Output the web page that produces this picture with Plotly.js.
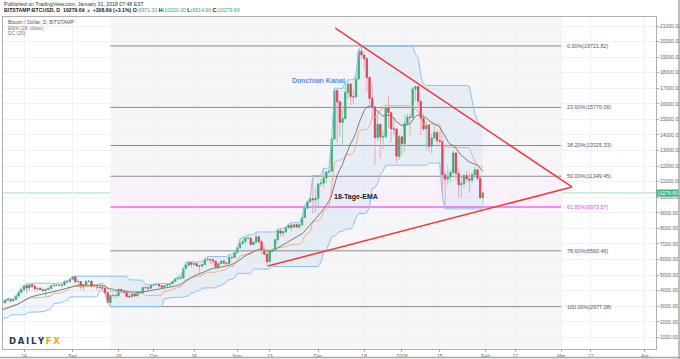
<!DOCTYPE html>
<html><head><meta charset="utf-8">
<script src="https://cdn.plot.ly/plotly-3.0.1.min.js"></script>
<style>html,body{margin:0;padding:0;background:#fff}#chart{width:680px;height:359px}</style>
</head><body><div id="chart"></div>
<script>
const dates = [
"2017-07-01","2017-07-02","2017-07-03","2017-07-04","2017-07-05","2017-07-06","2017-07-07","2017-07-08","2017-07-09","2017-07-10","2017-07-11","2017-07-12","2017-07-13","2017-07-14","2017-07-15","2017-07-16","2017-07-17","2017-07-18","2017-07-19","2017-07-20","2017-07-21","2017-07-22","2017-07-23","2017-07-24","2017-07-25","2017-07-26","2017-07-27","2017-07-28","2017-07-29","2017-07-30","2017-07-31",
"2017-08-01","2017-08-02","2017-08-03","2017-08-04","2017-08-05","2017-08-06","2017-08-07","2017-08-08","2017-08-09","2017-08-10","2017-08-11","2017-08-12","2017-08-13","2017-08-14","2017-08-15","2017-08-16","2017-08-17","2017-08-18","2017-08-19","2017-08-20","2017-08-21","2017-08-22","2017-08-23","2017-08-24","2017-08-25","2017-08-26","2017-08-27","2017-08-28","2017-08-29","2017-08-30","2017-08-31",
"2017-09-01","2017-09-02","2017-09-03","2017-09-04","2017-09-05","2017-09-06","2017-09-07","2017-09-08","2017-09-09","2017-09-10","2017-09-11","2017-09-12","2017-09-13","2017-09-14","2017-09-15","2017-09-16","2017-09-17","2017-09-18","2017-09-19","2017-09-20","2017-09-21","2017-09-22","2017-09-23","2017-09-24","2017-09-25","2017-09-26","2017-09-27","2017-09-28","2017-09-29","2017-09-30",
"2017-10-01","2017-10-02","2017-10-03","2017-10-04","2017-10-05","2017-10-06","2017-10-07","2017-10-08","2017-10-09","2017-10-10","2017-10-11","2017-10-12","2017-10-13","2017-10-14","2017-10-15","2017-10-16","2017-10-17","2017-10-18","2017-10-19","2017-10-20","2017-10-21","2017-10-22","2017-10-23","2017-10-24","2017-10-25","2017-10-26","2017-10-27","2017-10-28","2017-10-29","2017-10-30","2017-10-31",
"2017-11-01","2017-11-02","2017-11-03","2017-11-04","2017-11-05","2017-11-06","2017-11-07","2017-11-08","2017-11-09","2017-11-10","2017-11-11","2017-11-12","2017-11-13","2017-11-14","2017-11-15","2017-11-16","2017-11-17","2017-11-18","2017-11-19","2017-11-20","2017-11-21","2017-11-22","2017-11-23","2017-11-24","2017-11-25","2017-11-26","2017-11-27","2017-11-28","2017-11-29","2017-11-30",
"2017-12-01","2017-12-02","2017-12-03","2017-12-04","2017-12-05","2017-12-06","2017-12-07","2017-12-08","2017-12-09","2017-12-10","2017-12-11","2017-12-12","2017-12-13","2017-12-14","2017-12-15","2017-12-16","2017-12-17","2017-12-18","2017-12-19","2017-12-20","2017-12-21","2017-12-22","2017-12-23","2017-12-24","2017-12-25","2017-12-26","2017-12-27","2017-12-28","2017-12-29","2017-12-30","2017-12-31",
"2018-01-01","2018-01-02","2018-01-03","2018-01-04","2018-01-05","2018-01-06","2018-01-07","2018-01-08","2018-01-09","2018-01-10","2018-01-11","2018-01-12","2018-01-13","2018-01-14","2018-01-15","2018-01-16","2018-01-17","2018-01-18","2018-01-19","2018-01-20","2018-01-21","2018-01-22","2018-01-23","2018-01-24","2018-01-25","2018-01-26","2018-01-27","2018-01-28","2018-01-29","2018-01-30","2018-01-31"
];
const open = [
2480,2430,2500,2560,2600,2610,2600,2510,2560,2510,2330,2310,2400,2360,2230,1990,1930,2230,2320,2270,2860,2670,2830,2750,2760,2560,2540,2680,2800,2720,2740,
2870,2720,2700,2790,2860,3250,3220,3390,3420,3350,3420,3650,3880,4060,4320,4170,4380,4290,4120,4160,4070,4000,4080,4140,4320,4350,4350,4340,4370,4580,4570,
4740,4910,4580,4590,4230,4380,4600,4610,4300,4320,4230,4200,4160,3870,3240,3700,3700,3680,4080,3910,3880,3620,3600,3780,3660,3920,3880,4200,4190,4160,
4340,4400,4400,4310,4220,4320,4370,4440,4600,4770,4780,4820,5430,5640,5820,5690,5740,5600,5580,5690,5980,6010,5980,5900,5510,5740,5890,5770,5740,6150,6130,
6450,6750,7030,7160,7380,7380,6960,7120,7460,7140,6580,6340,5860,6550,6600,7280,7850,7700,7790,8040,8200,8070,8240,8100,8230,8700,9300,9720,9900,9840,
9940,10860,10910,11240,11620,11670,13750,16850,16130,14810,15050,16730,17270,16470,16450,17600,19380,19140,18900,17700,16350,15800,13830,14690,13870,13880,15740,15430,14400,14380,12640,
13880,13440,14750,15150,15130,16950,17110,16170,15060,14390,14620,13280,13800,14170,13640,13600,11440,11170,11300,11590,12850,11530,10800,10880,11390,11180,11100,11440,11760,11220,9971
];
const high = [
2520,2520,2600,2640,2630,2620,2600,2570,2570,2530,2410,2420,2420,2370,2240,2060,2230,2390,2400,2900,2870,2850,2840,2780,2770,2620,2690,2810,2810,2760,2890,
2920,2760,2810,2880,3290,3280,3430,3490,3430,3450,3690,3970,4180,4330,4440,4400,4480,4360,4200,4190,4100,4140,4250,4340,4460,4370,4390,4380,4620,4640,4750,
4920,4930,4700,4590,4480,4660,4680,4660,4370,4330,4330,4370,4170,3920,3760,3840,3760,4100,4090,4030,3900,3760,3800,3790,3960,3980,4210,4240,4200,4360,
4400,4460,4420,4350,4360,4420,4460,4620,4790,4910,4880,5440,5850,5840,5840,5780,5760,5600,5730,6070,6190,6060,6050,5900,5780,5980,6010,5850,6320,6200,6460,
6770,7330,7440,7480,7590,7410,7200,7770,7460,7280,6860,6460,6700,6730,7310,7940,8000,7850,8100,8280,8370,8280,8290,8320,8740,9480,9740,9980,11400,10650,
10900,11200,11850,11600,11900,13850,17000,16900,16250,15700,17400,17550,17300,16900,17900,19500,19700,19200,18990,17800,17250,15900,15450,14700,14300,16000,16500,15500,15100,14450,14000,
13900,15300,15400,15400,17100,17180,17120,16200,15400,14900,14700,14100,14600,14300,14200,13600,11700,12000,11800,13000,12850,11900,11300,11500,11700,11600,11600,12000,11800,11300,10320
];
const low = [
2400,2380,2490,2550,2550,2580,2490,2480,2500,2310,2250,2260,2330,2200,1980,1840,1920,2160,2260,2260,2620,2650,2700,2720,2470,2450,2530,2680,2700,2620,2720,
2660,2650,2700,2770,2850,3160,3200,3370,3240,3330,3410,3630,3850,3990,3850,3980,4190,3960,3960,4050,3970,3600,4070,4110,4300,4290,4310,4200,4340,4480,4560,
4700,4480,4460,4100,3990,4380,4500,4120,4230,4010,4120,4060,3780,3200,2977,3560,3490,3680,3860,3860,3580,3550,3590,3640,3660,3870,3880,4100,4000,4150,
4280,4380,4250,4190,4180,4310,4330,4430,4560,4710,4740,4810,5380,5570,5450,5620,5520,5110,5560,5630,5900,5720,5670,5450,5390,5720,5720,5680,5680,6030,6100,
6380,6750,6980,6980,7300,6940,6940,7060,7020,6340,6280,5555,5850,6420,6600,7100,7500,7490,7680,7960,7800,8050,8030,7950,8200,8700,9300,9650,8950,9000,
9400,10700,10600,10900,11470,11670,13700,13500,13900,13300,15000,16300,15900,16000,16400,17600,18900,18250,16800,15700,15000,12060,13600,12500,13100,13800,14500,13500,14000,12200,12400,
12750,12900,14600,14000,14900,16150,15750,14000,14250,13100,12900,12800,13800,13200,13400,10000,9250,10700,11000,11500,11100,10000,9950,10600,10950,10300,10900,11400,11100,9900,9514.96
];
const close = [
2430,2500,2560,2600,2610,2600,2510,2560,2510,2330,2310,2400,2360,2230,1990,1930,2230,2320,2270,2860,2670,2830,2750,2760,2560,2540,2680,2800,2720,2740,2870,
2720,2700,2790,2860,3250,3220,3390,3420,3350,3420,3650,3880,4060,4320,4170,4380,4290,4120,4160,4070,4000,4080,4140,4320,4350,4350,4340,4370,4580,4570,4740,
4910,4580,4590,4230,4380,4600,4610,4300,4320,4230,4200,4160,3870,3240,3700,3700,3680,4080,3910,3880,3620,3600,3780,3660,3920,3880,4200,4190,4160,4340,
4400,4400,4310,4220,4320,4370,4440,4600,4770,4780,4820,5430,5640,5820,5690,5740,5600,5580,5690,5980,6010,5980,5900,5510,5740,5890,5770,5740,6150,6130,6450,
6750,7030,7160,7380,7380,6960,7120,7460,7140,6580,6340,5860,6550,6600,7280,7850,7700,7790,8040,8200,8070,8240,8100,8230,8700,9300,9720,9900,9840,9940,
10860,10910,11240,11620,11670,13750,16850,16130,14810,15050,16730,17270,16470,16450,17600,19380,19140,18900,17700,16350,15800,13830,14690,13870,13880,15740,15430,14400,14380,12640,13880,
13440,14750,15150,15130,16950,17110,16170,15060,14390,14620,13280,13800,14170,13640,13600,11440,11170,11300,11590,12850,11530,10800,10880,11390,11180,11100,11440,11760,11220,9971,10279.69
];

const emaLength = 18;
const dcLength = 20;

const fibLevels = [19721.82, 15770.06, 13325.33, 11349.45, 9373.57, 6560.46, 2977.08];
const fibLabels = ["0.00%(19721.82)","23.60%(15770.06)","38.20%(13325.33)","50.00%(11349.45)","61.80%(9373.57)","78.60%(6560.46)","100.00%(2977.08)"];
const fibStart = "2017-09-15";
const fibEnd = "2018-03-01";
const fibLabelX = "2018-03-02 12:00";

const trendUpX = ["2017-12-07 08:00", "2018-03-05"];
const trendUpY = [20870, 10660];
const trendLowX = ["2017-11-12 08:00", "2018-03-05"];
const trendLowY = [5586, 10660];

const lastPrice = 10279.69;

const tickDates = ["2017-08-14","2017-09-01","2017-09-18","2017-10-01","2017-10-16","2017-11-01","2017-11-13","2017-12-01","2017-12-18","2018-01-01","2018-01-15","2018-02-01","2018-02-12","2018-03-01","2018-03-12","2018-04-01"];
const tickLabels = ["14","Sep","18","Oct","16","Nov","13","Dec","18","2018","15","Feb","12","Mar","12","Apr"];

// indicators derived from the price arrays (as the charting platform does)
const ema = [];
{ const k = 2/(emaLength+1); let e = close[0];
  close.forEach((c,i)=>{ e = i===0 ? c : c*k + e*(1-k); ema.push(e); }); }
const dcUp = [], dcLo = [], dcMid = [];
for (let i=0;i<close.length;i++){
  const s = Math.max(0, i-dcLength+1);
  const u = Math.max(...high.slice(s,i+1));
  const l = Math.min(...low.slice(s,i+1));
  dcUp.push(u); dcLo.push(l); dcMid.push((u+l)/2);
}
const bodyHi = open.map((o,i)=>Math.max(o,close[i]));
const bodyLo = open.map((o,i)=>Math.min(o,close[i]));

const UP = '#3fae6a', DOWN = '#ef3a4a';
const traces = [
  {type:'candlestick', x:dates, open:open, high:high, low:low, close:close,
   increasing:{line:{color:'#9fd8b6', width:1}, fillcolor:'#9fd8b6'},
   decreasing:{line:{color:'#f7a9b2', width:1}, fillcolor:'#f7a9b2'},
   whiskerwidth:0, hoverinfo:'skip'},
  {type:'candlestick', x:dates, open:open, high:bodyHi, low:bodyLo, close:close,
   increasing:{line:{color:UP, width:0.8}, fillcolor:UP},
   decreasing:{line:{color:DOWN, width:0.8}, fillcolor:DOWN},
   whiskerwidth:0, hoverinfo:'skip'},
  {type:'scatter', mode:'lines', x:dates, y:dcUp, line:{color:'#8cc3ef', width:1}, hoverinfo:'skip'},
  {type:'scatter', mode:'lines', x:dates, y:dcLo, line:{color:'#8cc3ef', width:1}, fill:'tonexty', fillcolor:'rgba(90,160,225,0.09)', hoverinfo:'skip'},
  {type:'scatter', mode:'lines', x:dates, y:dcMid, line:{color:'#f1b084', width:1}, hoverinfo:'skip'},
  {type:'scatter', mode:'lines', x:dates, y:ema, line:{color:'#7a7a7a', width:1}, hoverinfo:'skip'},
  {type:'scatter', mode:'lines', x:trendUpX, y:trendUpY, line:{color:'#f03a3a', width:1.5}, hoverinfo:'skip'},
  {type:'scatter', mode:'lines', x:trendLowX, y:trendLowY, line:{color:'#f03a3a', width:1.5}, hoverinfo:'skip'}
];

const px = v => (v-3)/653;
const py = v => (349-v)/332;

const shapes = [
  {type:'rect', xref:'x', yref:'paper', x0:fibStart, x1:fibEnd, y0:0, y1:1, fillcolor:'#f6f6f8', line:{width:0}, layer:'below'},
  {type:'rect', xref:'x', yref:'y', x0:fibStart, x1:fibEnd, y0:fibLevels[4], y1:fibLevels[3], fillcolor:'#fbf1fb', line:{width:0}, layer:'below'},
  {type:'line', xref:'paper', yref:'y', x0:0, x1:1, y0:lastPrice, y1:lastPrice, line:{color:'#a8dcc0', width:1}, layer:'between'},
  {type:'line', xref:'paper', yref:'paper', x0:px(679), x1:px(679), y0:py(359), y1:py(0), line:{color:'#a8a8a8', width:1.5}},
  {type:'line', xref:'paper', yref:'paper', x0:px(0), x1:px(680), y0:py(357.5), y1:py(357.5), line:{color:'#a8a8a8', width:1.5}}
];
fibLevels.forEach((v,i)=>{
  const pink = i===4;
  shapes.push({type:'line', xref:'x', yref:'y', x0:fibStart, x1:fibEnd, y0:v, y1:v,
    line:{color: pink ? '#f08cf0' : '#8c8c8c', width: pink ? 2 : 1}, layer:'between'});
});

const GREEN = '#3aa86b';
const TS = '\u2009';
const annotations = [
  {xref:'paper', yref:'paper', x:px(2), y:py(4), xanchor:'left', yanchor:'middle', showarrow:false,
   text:'Published on TradingView.com, January 31, 2018 07:48 EST', font:{size:5.2, color:'#333'}},
  {xref:'paper', yref:'paper', x:px(2), y:py(10.5), xanchor:'left', yanchor:'middle', showarrow:false,
   text:'<b>BITSTAMP:BTCUSD, D</b>  <b>10279.69</b> <span style="color:'+GREEN+'">▲</span> <b>+308.69 (+3.1%)</b> <b>O:</b><span style="color:'+GREEN+'">9971.00</span> <b>H:</b><span style="color:'+GREEN+'">10320.00</span> <b>L:</b><span style="color:'+GREEN+'">9514.96</span> <b>C:</b><span style="color:'+GREEN+'">10279.69</span>',
   font:{size:5.2, color:'#222'}},
  {xref:'paper', yref:'paper', x:px(6), y:py(22.5), xanchor:'left', yanchor:'middle', showarrow:false,
   text:'Bitcoin / Dollar, D, BITSTAMP', font:{size:5, color:'#555'}},
  {xref:'paper', yref:'paper', x:px(6), y:py(28), xanchor:'left', yanchor:'middle', showarrow:false,
   text:'EMA (18, close)', font:{size:5, color:'#777'}},
  {xref:'paper', yref:'paper', x:px(6), y:py(33.5), xanchor:'left', yanchor:'middle', showarrow:false,
   text:'DC (20)', font:{size:5, color:'#777'}},
  {xref:'paper', yref:'paper', x:px(318), y:py(81), xanchor:'center', yanchor:'middle', showarrow:false,
   text:'<b>Donchian Kanal</b>', font:{size:7, color:'#5a8ee6'}},
  {xref:'paper', yref:'paper', x:px(356), y:py(197), xanchor:'center', yanchor:'middle', showarrow:false,
   text:'<b>18-Tage-EMA</b>', font:{size:7, color:'#222'}},
  {xref:'paper', yref:'paper', x:px(7), y:py(341), xanchor:'left', yanchor:'middle', showarrow:false,
   text:'<b>D'+TS+'A'+TS+'I'+TS+'L'+TS+'Y'+TS+'<span style="color:#f5a00c">F'+TS+'X</span></b>', font:{size:8.5, color:'#27374a', family:'DejaVu Sans'}},
  {xref:'paper', yref:'y', x:1, y:lastPrice, xanchor:'left', yanchor:'middle', showarrow:false,
   text:'10279.69', bgcolor:'#3fb57a', borderpad:0.5, font:{size:4.8, color:'#fff'}}
];
fibLevels.forEach((v,i)=>{
  annotations.push({xref:'x', yref:'y', x:fibLabelX, y:v, xanchor:'left', yanchor:'middle', showarrow:false,
    text:fibLabels[i], font:{size:5.4, color: i===4 ? '#e040e0' : '#555'}});
});

const layout = {
  width:680, height:359,
  margin:{l:3, r:24, t:17, b:10, pad:0},
  paper_bgcolor:'#fff', plot_bgcolor:'#fff',
  showlegend:false, hovermode:false, dragmode:false,
  font:{family:'Liberation Sans, Arial, sans-serif', size:5, color:'#666'},
  xaxis:{type:'date', range:['2017-08-06 05:00','2018-04-05 03:00'], rangeslider:{visible:false},
    tickmode:'array', tickvals:tickDates, ticktext:tickLabels, tickfont:{size:5, color:'#666'},
    showgrid:true, gridcolor:'#eef1f6', gridwidth:1, zeroline:false,
    showline:true, linecolor:'#b0b0b0', linewidth:1, mirror:true, ticks:'outside', ticklen:2, tickcolor:'#aaa'},
  yaxis:{side:'right', range:[255, 21578], tick0:0, dtick:1000, tickformat:'.2f',
    tickfont:{size:5, color:'#666'}, showgrid:true, gridcolor:'#eef1f6', gridwidth:1, zeroline:false,
    showline:true, linecolor:'#b0b0b0', linewidth:1, mirror:true, ticks:'outside', ticklen:2, tickcolor:'#aaa'},
  boxgap:0.35,
  shapes:shapes, annotations:annotations
};
Plotly.newPlot('chart', traces, layout, {staticPlot:true, displayModeBar:false});
</script></body></html>
